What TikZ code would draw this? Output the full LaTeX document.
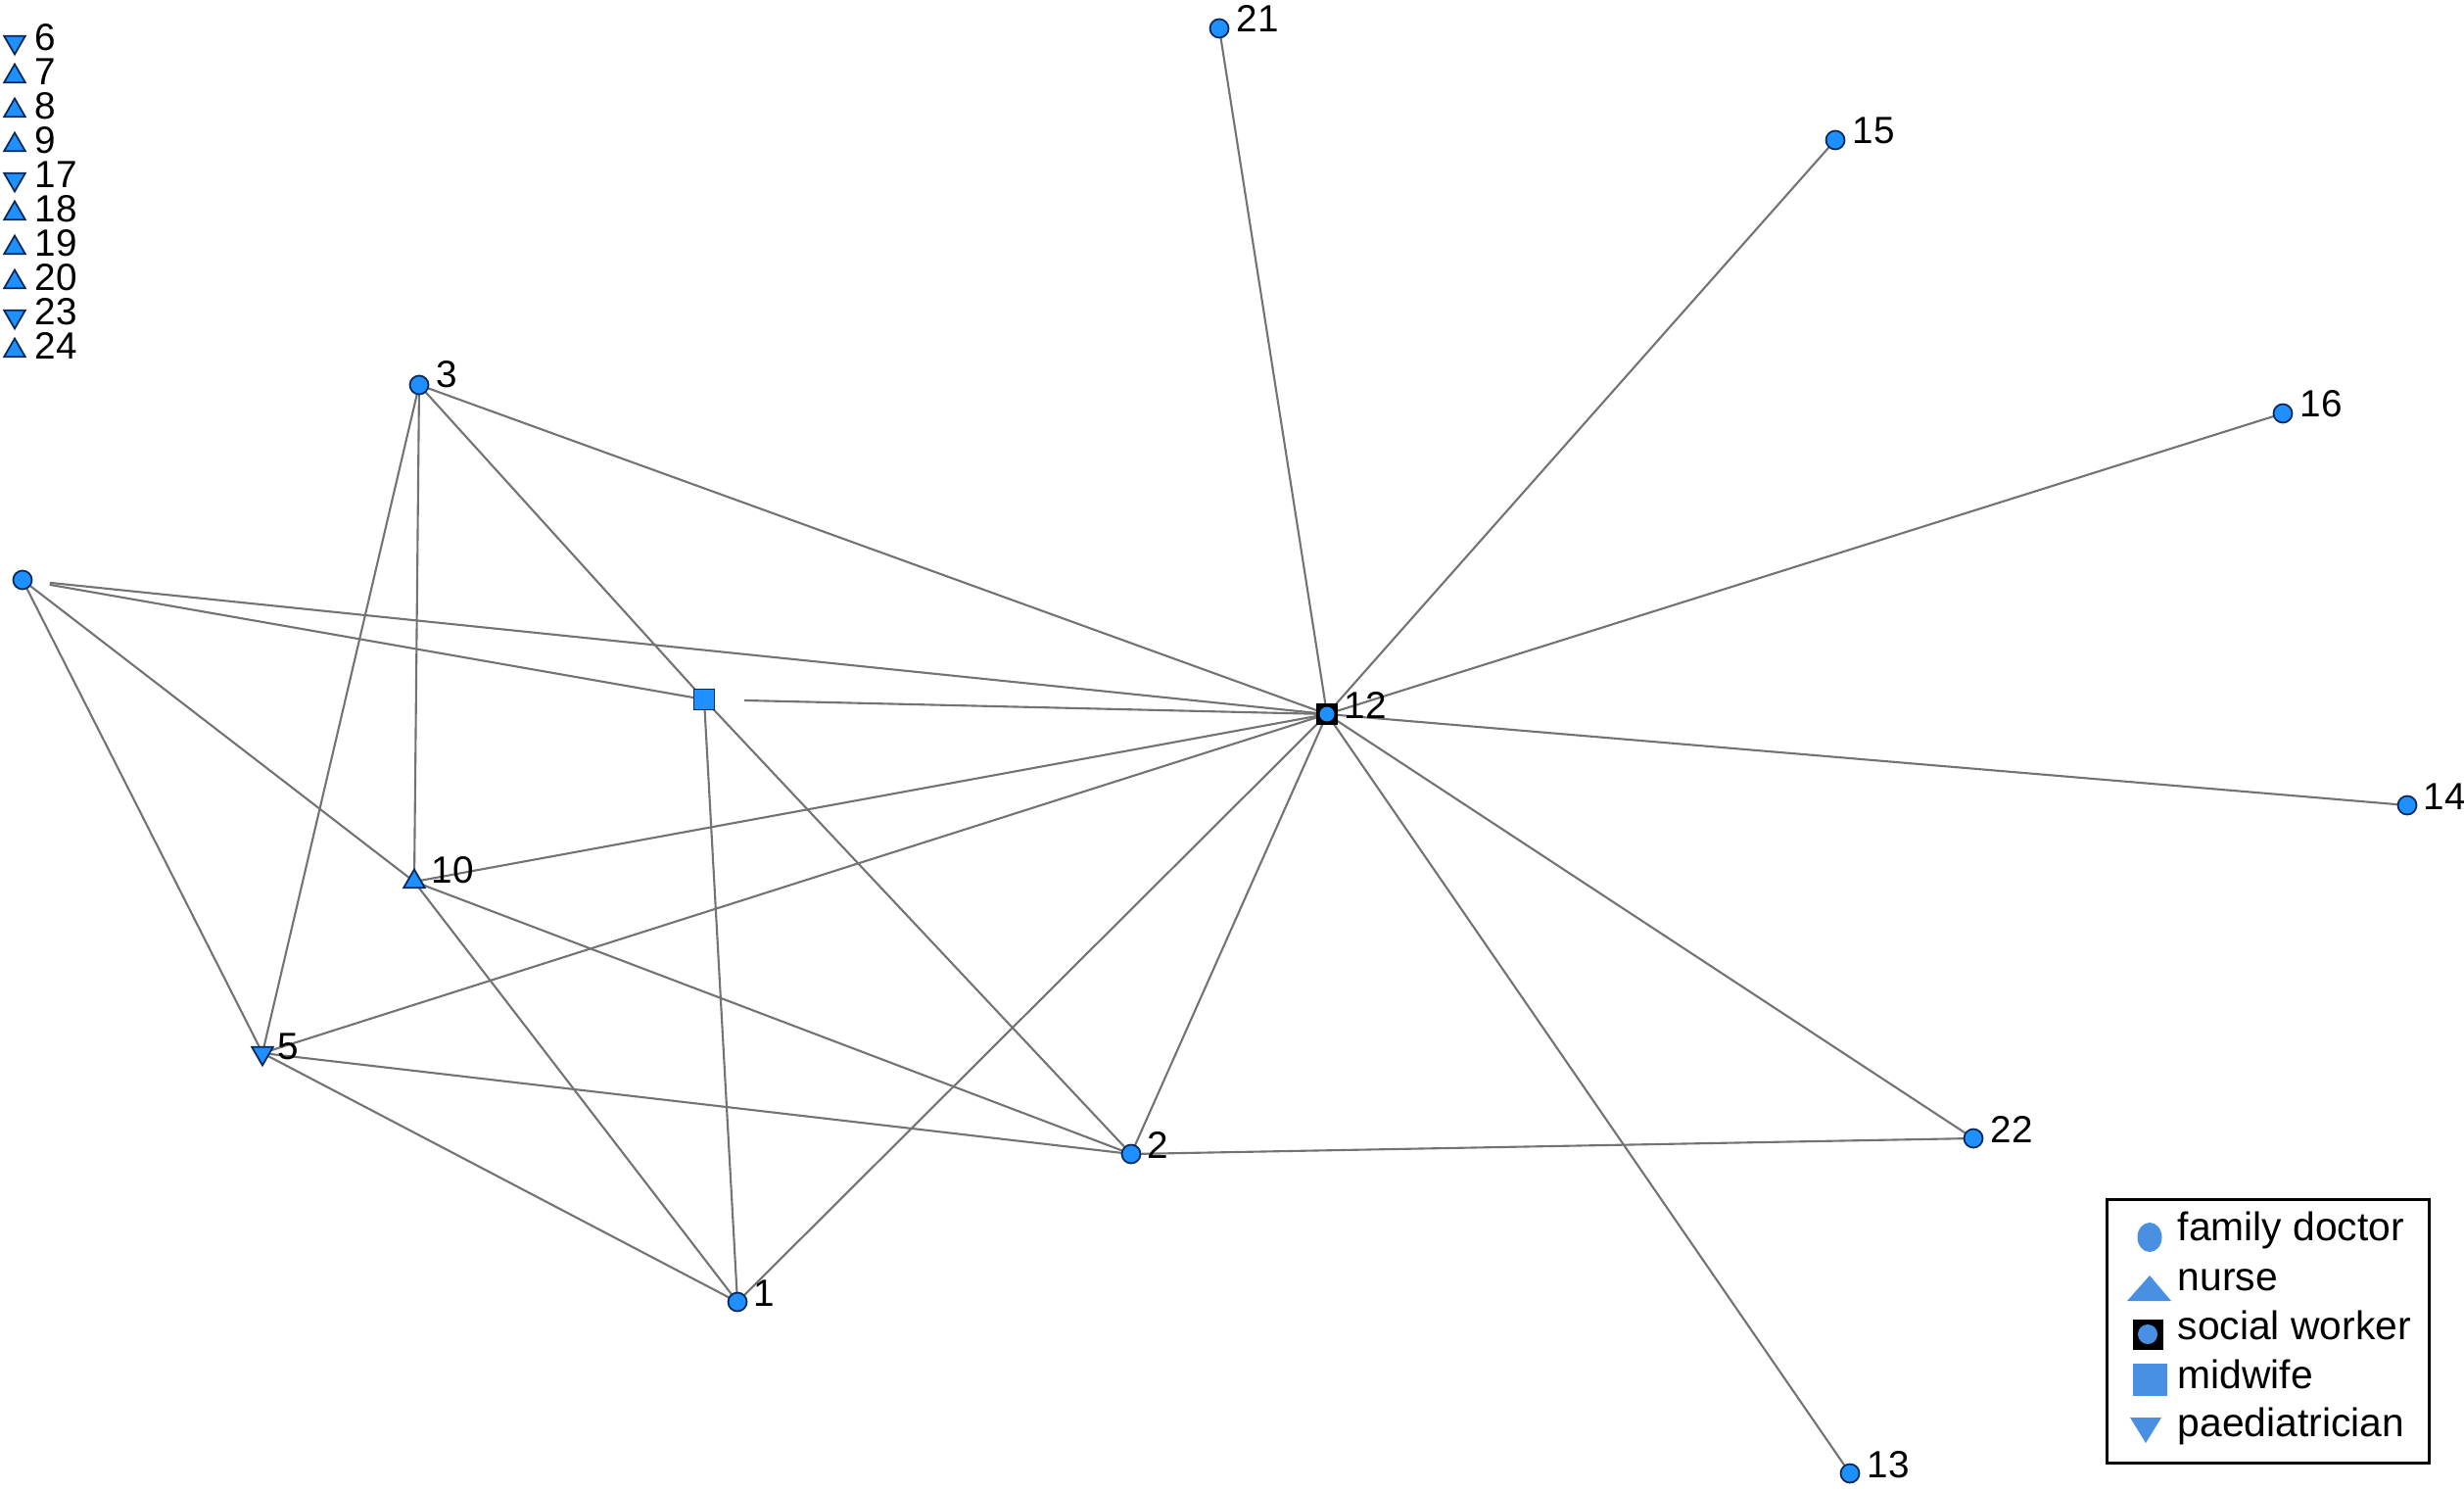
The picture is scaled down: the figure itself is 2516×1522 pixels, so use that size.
\documentclass[tikz,border=0pt]{standalone}
\usepackage{fontspec}
\setmainfont{Liberation Sans}
\usetikzlibrary{shapes.geometric,backgrounds}
\definecolor{nblue}{RGB}{30,144,255}
\definecolor{nborder}{RGB}{10,40,90}
\definecolor{edgegray}{RGB}{115,115,115}
\definecolor{lblue}{RGB}{74,144,226}
\begin{document}
\begin{tikzpicture}[x=0.01cm,y=-0.01cm,
  doc/.style={circle,fill=nblue,draw=nborder,line width=0.5pt,inner sep=0pt,minimum size=0.19cm},
  nurse/.style={regular polygon,regular polygon sides=3,fill=nblue,draw=nborder,line width=0.5pt,inner sep=0pt,minimum size=0.25cm},
  paed/.style={nurse,shape border rotate=180},
  mid/.style={rectangle,fill=nblue,draw=nborder,line width=0.5pt,inner sep=0pt,minimum size=0.21cm},
  soc/.style={rectangle,fill=black,inner sep=0pt,minimum size=0.22cm},
  lab/.style={anchor=base west,inner sep=0pt,font=\fontsize{11}{13}\selectfont},
  leg/.style={anchor=base west,inner sep=0pt,font=\fontsize{11.6}{14}\selectfont},
  link/.style={draw=edgegray,line width=0.6pt},
]
\useasboundingbox (0,0) rectangle (2516,1522);

% isolated nodes
\node[paed]  (n6)  at (15,43)  {}; \node[lab] (l6)  at (35,52)  {6};
\node[nurse] (n7)  at (15,78)  {}; \node[lab] (l7)  at (35,87)  {7};
\node[nurse] (n8)  at (15,113) {}; \node[lab] (l8)  at (35,122) {8};
\node[nurse] (n9)  at (15,148) {}; \node[lab] (l9)  at (35,157) {9};
\node[paed]  (n17) at (15,183) {}; \node[lab] (l17) at (35,192) {17};
\node[nurse] (n18) at (15,218) {}; \node[lab] (l18) at (35,227) {18};
\node[nurse] (n19) at (15,253) {}; \node[lab] (l19) at (35,262) {19};
\node[nurse] (n20) at (15,288) {}; \node[lab] (l20) at (35,297) {20};
\node[paed]  (n23) at (15,323) {}; \node[lab] (l23) at (35,332) {23};
\node[nurse] (n24) at (15,358) {}; \node[lab] (l24) at (35,367) {24};

% connected nodes
\node[soc] (n12) at (1355,729) {};
\node[circle,fill=nblue,inner sep=0pt,minimum size=0.15cm] (n12c) at (n12.center) {};
\node[lab] (l12) at (1372,733) {12};
\node[doc] (n21) at (1245,29) {};   \node[lab] (l21) at (1262,33) {21};
\node[doc] (n15) at (1874,143) {};  \node[lab] (l15) at (1891,147) {15};
\node[doc] (n16) at (2331,422) {};  \node[lab] (l16) at (2348,426) {16};
\node[doc] (n14) at (2458,822) {};  \node[lab] (l14) at (2474,826) {14};
\node[doc] (n3)  at (428,393) {};   \node[lab] (l3)  at (445,396) {3};
\node[doc] (n4)  at (23,592) {};
\node[mid] (n11) at (719,714) {};
\node[nurse] (n10) at (423,900) {}; \node[lab] (l10) at (440,901) {10};
\node[paed] (n5) at (268,1075) {};  \node[lab] (l5)  at (283,1081) {5};
\node[doc] (n2)  at (1155,1178) {}; \node[lab] (l2)  at (1171,1182) {2};
\node[doc] (n22) at (2015,1162) {}; \node[lab] (l22) at (2032,1166) {22};
\node[doc] (n1)  at (753,1329) {};  \node[lab] (l1)  at (769,1333) {1};
\node[doc] (n13) at (1889,1504) {}; \node[lab] (l13) at (1906,1508) {13};

\begin{scope}[on background layer]
\path[link] (n21.center) -- (n12.center);
\path[link] (n15.center) -- (n12.center);
\path[link] (n16.center) -- (n12.center);
\path[link] (n14.center) -- (n12.center);
\path[link] (n13.center) -- (n12.center);
\path[link] (n22.center) -- (n12.center);
\path[link] (n2.center) -- (n12.center);
\path[link] (n1.center) -- (n12.center);
\path[link] (n5.center) -- (n12.center);
\path[link] (n10.center) -- (n12.center);
\path[link] (n3.center) -- (n12.center);
\path[link,shorten <=0.41cm] (n11.center) -- (n12.center);
\path[link,shorten <=0.28cm] (n4.center) -- (n12.center);
\path[link,shorten <=0.28cm] (n4.center) -- (n11.center);
\path[link] (n4.center) -- (n10.center);
\path[link] (n4.center) -- (n5.center);
\path[link] (n3.center) -- (n11.center);
\path[link] (n3.center) -- (n10.center);
\path[link] (n3.center) -- (n5.center);
\path[link] (n11.center) -- (n1.center);
\path[link] (n11.center) -- (n2.center);
\path[link] (n10.center) -- (n2.center);
\path[link] (n10.center) -- (n1.center);
\path[link] (n5.center) -- (n2.center);
\path[link] (n5.center) -- (n1.center);
\path[link] (n2.center) -- (n22.center);
\end{scope}

% legend
\node[draw=black,line width=0.85pt,minimum width=3.28cm,minimum height=2.68cm,inner sep=0pt] (legend) at (2316,1359) {};
\node[ellipse,fill=lblue,inner sep=0pt,minimum width=0.25cm,minimum height=0.30cm] (ifd) at (2195,1263) {};
\fill[lblue] (2172,1328) -- (2217,1328) -- (2195,1302) -- cycle;
\node[rectangle,fill=black,inner sep=0pt,minimum size=0.31cm] (isw) at (2193,1362) {};
\node[circle,fill=lblue,inner sep=0pt,minimum size=0.20cm] (iswc) at (isw.center) {};
\node[rectangle,fill=lblue,inner sep=0pt,minimum width=0.35cm,minimum height=0.33cm] (imw) at (2195,1408) {};
\fill[lblue] (2175,1447) -- (2207,1447) -- (2191,1473) -- cycle;
\node[leg] (t1) at (2223,1266) {family doctor};
\node[leg] (t2) at (2223,1317) {nurse};
\node[leg] (t3) at (2223,1367) {social worker};
\node[leg] (t4) at (2223,1417) {midwife};
\node[leg] (t5) at (2223,1466) {paediatrician};
\end{tikzpicture}
\end{document}
